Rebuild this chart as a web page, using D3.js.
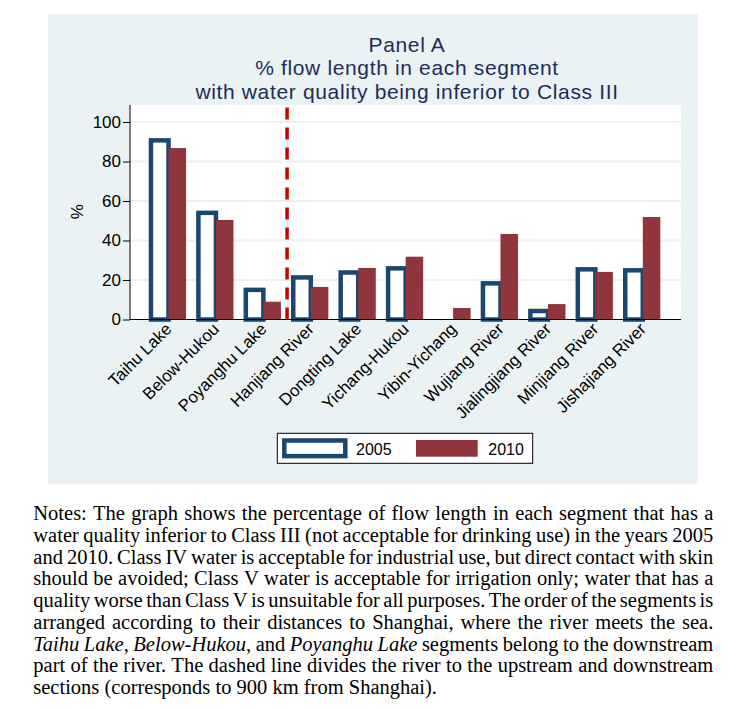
<!DOCTYPE html>
<html>
<head>
<meta charset="utf-8">
<script src="https://cdn.jsdelivr.net/npm/d3@7"></script>
<style>
  html, body { margin: 0; padding: 0; background: #ffffff; }
  svg { display: block; }
</style>
</head>
<body>
<svg id="chart" width="738" height="709"></svg>
<script>
// ---------------- data ----------------
const categories = ["Taihu Lake", "Below-Hukou", "Poyanghu Lake", "Hanjiang River", "Dongting Lake",
  "Yichang-Hukou", "Yibin-Yichang", "Wujiang River", "Jialingjiang River", "Minjiang River", "Jishajiang River"];
const series = ["2005", "2010"];
const values2005 = [90.7, 54.0, 15.0, 21.3, 23.8, 25.9, 0, 18.3, 4.3, 25.4, 24.9];
const values2010 = [86.8, 50.4, 9.0, 16.5, 26.1, 31.8, 5.8, 43.3, 7.8, 24.1, 51.9];
const yTicks = [0, 20, 40, 60, 80, 100];
const titleLines = ["Panel A", "% flow length in each segment", "with water quality being inferior to Class III"];
const yLabel = "%";
const dividerAfter = "Poyanghu Lake";   // dashed line between downstream and upstream
const noteLines = [
  "Notes: The graph shows the percentage of flow length in each segment that has a",
  "water quality inferior to Class III (not acceptable for drinking use) in the years 2005",
  "and 2010. Class IV water is acceptable for industrial use, but direct contact with skin",
  "should be avoided; Class V water is acceptable for irrigation only; water that has a",
  "quality worse than Class V is unsuitable for all purposes. The order of the segments is",
  "arranged according to their distances to Shanghai, where the river meets the sea.",
  "*Taihu Lake*, *Below-Hukou*, and *Poyanghu Lake* segments belong to the downstream",
  "part of the river. The dashed line divides the river to the upstream and downstream",
  "sections (corresponds to 900 km from Shanghai)."
];

// ---------------- styles ----------------
const colNavy = "#1a476f";
const colMaroon = "#90353b";
const colPanel = "#eaf2f3";
const colTitle = "#1c2d5c";
const sans = "'Liberation Sans', Arial, Helvetica, sans-serif";
const serif = "'Liberation Serif', 'Times New Roman', Times, serif";

const svg = d3.select("#chart");
svg.append("rect").attr("width", 738).attr("height", 709).attr("fill", "#fff");

// outer panel
svg.append("rect").attr("x", 48).attr("y", 14).attr("width", 649.7).attr("height", 470).attr("fill", colPanel);

// plot region
const plot = { left: 130, right: 681, top: 105, bottom: 319.5 };
svg.append("rect").attr("x", plot.left).attr("y", plot.top)
  .attr("width", plot.right - plot.left).attr("height", plot.bottom - plot.top).attr("fill", "#fff");

const y = d3.scaleLinear().domain([0, 108.6]).range([plot.bottom, plot.top]);
const x0 = d3.scaleBand().domain(categories).range([144.8, 666.5]).paddingInner(0.26).paddingOuter(0.13);
const x1 = d3.scaleBand().domain(series).range([0, x0.bandwidth()]).padding(0);

// grid lines
svg.append("g").selectAll("line").data(yTicks.filter(d => d > 0)).join("line")
  .attr("x1", plot.left).attr("x2", plot.right)
  .attr("y1", d => y(d)).attr("y2", d => y(d))
  .attr("stroke", colPanel).attr("stroke-width", 2);

// bars
const data = categories.map((c, i) => ({ cat: c, v2005: values2005[i], v2010: values2010[i] }));
const groups = svg.append("g").selectAll("g").data(data).join("g")
  .attr("transform", d => `translate(${x0(d.cat)},0)`);
groups.filter(d => d.v2005 > 0).append("rect")
  .attr("x", x1("2005")).attr("width", x1.bandwidth())
  .attr("y", d => y(d.v2005)).attr("height", d => y(0) - y(d.v2005))
  .attr("fill", "#fff").attr("stroke", colNavy).attr("stroke-width", 4.5);
groups.append("rect")
  .attr("x", x1("2010")).attr("width", x1.bandwidth())
  .attr("y", d => y(d.v2010)).attr("height", d => y(0) - y(d.v2010))
  .attr("fill", colMaroon);

// y axis
const yAxis = svg.append("g").attr("transform", `translate(${plot.left},0)`)
  .call(d3.axisLeft(y).tickValues(yTicks).tickSize(7).tickPadding(2).tickSizeOuter(0));
yAxis.select(".domain").remove();
yAxis.selectAll("text").attr("font-family", sans).attr("font-size", 17).attr("fill", "#000");
yAxis.selectAll(".tick line").attr("stroke", "#000");
svg.append("line").attr("x1", plot.left).attr("x2", plot.left).attr("y1", plot.top).attr("y2", plot.bottom)
  .attr("stroke", "#000").attr("stroke-width", 1);

// x axis
const xAxis = svg.append("g").attr("transform", `translate(0,${plot.bottom})`)
  .call(d3.axisBottom(x0).tickSize(0));
xAxis.select(".domain").remove();
xAxis.selectAll("text")
  .attr("x", 0).attr("y", 0).attr("dy", "0.35em")
  .attr("transform", "translate(0,6.5) rotate(-45)")
  .style("text-anchor", "end")
  .attr("font-family", sans).attr("font-size", 16.8).attr("fill", "#000");
svg.append("line").attr("x1", plot.left).attr("x2", plot.right).attr("y1", plot.bottom).attr("y2", plot.bottom)
  .attr("stroke", "#000").attr("stroke-width", 1.2);

// dashed divider
const idx = categories.indexOf(dividerAfter);
const xDiv = (x0(categories[idx]) + x0(categories[idx + 1]) + x0.bandwidth()) / 2;
svg.append("line").attr("x1", xDiv).attr("x2", xDiv).attr("y1", y(0)).attr("y2", y(110.5))
  .attr("stroke", "#cc0000").attr("stroke-width", 3.5).attr("stroke-dasharray", "12,8");

// y label
svg.append("text").attr("transform", "translate(76.7,211.7) rotate(-90)")
  .attr("text-anchor", "middle").attr("dy", "0.35em")
  .attr("font-family", sans).attr("font-size", 17).attr("fill", "#000").text(yLabel);

// title (one text block, three lines)
const titleCx = 407;
const title = svg.append("text").attr("text-anchor", "middle").attr("font-family", sans)
  .attr("font-size", 21).attr("letter-spacing", 0.65).attr("fill", colTitle);
title.selectAll("tspan").data(titleLines).join("tspan")
  .attr("x", titleCx).attr("y", (d, i) => 51.5 + i * 23.6).text(d => d);

// legend
const lg = svg.append("g");
lg.append("rect").attr("x", 277.3).attr("y", 433.3).attr("width", 255.4).attr("height", 30)
  .attr("fill", "#fff").attr("stroke", "#000").attr("stroke-width", 1);
lg.append("rect").attr("x", 284.3).attr("y", 440.5).attr("width", 61).attr("height", 15.6)
  .attr("fill", "#fff").attr("stroke", colNavy).attr("stroke-width", 4.5);
lg.append("text").attr("x", 356).attr("y", 455).attr("font-family", sans).attr("font-size", 16)
  .attr("fill", "#000").text(series[0]);
lg.append("rect").attr("x", 416).attr("y", 440).attr("width", 61.7).attr("height", 16.7)
  .attr("fill", colMaroon);
lg.append("text").attr("x", 488.3).attr("y", 455).attr("font-family", sans).attr("font-size", 16)
  .attr("fill", "#000").text(series[1]);

// notes (justified, per line)
const noteLeft = 33.3, noteRight = 713.3, noteTop = 520, noteStep = 21.75, noteSize = 20.5;
const notes = svg.append("g").attr("font-family", serif).attr("font-size", noteSize).attr("fill", "#000");
let italic = false;
noteLines.forEach((line, li) => {
  const words = line.split(" ");
  const nodes = words.map(w => {
    const t = notes.append("text").attr("y", noteTop + li * noteStep);
    let buf = "";
    const flush = () => { if (buf) { t.append("tspan").attr("font-style", italic ? "italic" : "normal").text(buf); buf = ""; } };
    for (const ch of w) {
      if (ch === "*") { flush(); italic = !italic; } else buf += ch;
    }
    flush();
    return t;
  });
  const widths = nodes.map(n => n.node().getComputedTextLength());
  const total = d3.sum(widths);
  const last = li === noteLines.length - 1;
  const gap = last ? noteSize * 0.25 : (noteRight - noteLeft - total) / (words.length - 1);
  let xPos = noteLeft;
  nodes.forEach((n, i) => { n.attr("x", xPos); xPos += widths[i] + gap; });
});
</script>
</body>
</html>
